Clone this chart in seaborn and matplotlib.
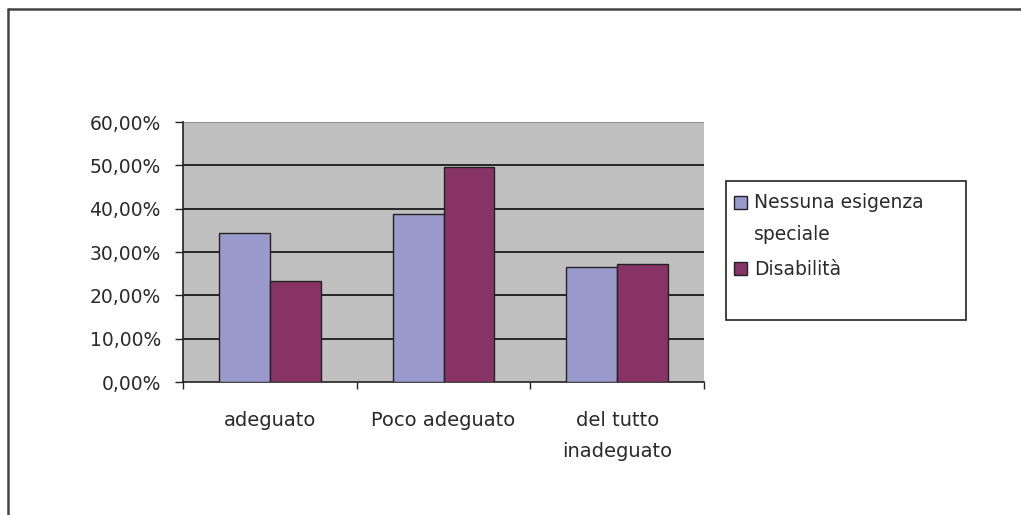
import matplotlib
matplotlib.use("Agg")
import matplotlib.pyplot as plt
from matplotlib.lines import Line2D
from matplotlib.patches import Rectangle
from matplotlib.ticker import FixedLocator, FuncFormatter
import seaborn as sns
import pandas as pd

# Survey responses, share per group
categories = ["adeguato", "Poco adeguato", "del tutto\ninadeguato"]
series_names = ["Nessuna esigenza\nspeciale", "Disabilità"]
nessuna_esigenza = [34.5, 38.8, 26.6]
disabilita = [23.2, 49.6, 27.3]
y_ticks = [0, 10, 20, 30, 40, 50, 60]

df = pd.DataFrame({
    "categoria": categories * 2,
    "gruppo": [series_names[0]] * 3 + [series_names[1]] * 3,
    "valore": nessuna_esigenza + disabilita,
})

sns.set_theme(style="white")
plt.rcParams["font.family"] = ["DejaVu Sans"]

W, H = 1021, 515
fig = plt.figure(figsize=(W / 100, H / 100), dpi=100)
fig.patch.set_facecolor("white")

# plot area in pixel coordinates
x0, x1, ytop, ybot = 183, 704, 122, 382
ax = fig.add_axes([x0 / W, 1 - ybot / H, (x1 - x0) / W, (ybot - ytop) / H])
ax.set_facecolor("#C0C0C0")

palette = ["#9999CC", "#883366"]
sns.barplot(data=df, x="categoria", y="valore", hue="gruppo",
            order=categories, hue_order=series_names, palette=palette,
            width=0.585, edgecolor="#222222", linewidth=1.0,
            saturation=1, ax=ax, zorder=3)

ax.set_xlim(-0.5, 2.5)
ax.set_ylim(0, 60)
ax.set_xlabel("")
ax.set_ylabel("")

# horizontal gridlines
for v in y_ticks[1:]:
    ax.axhline(v, color="#1a1a1a" if v < 60 else "#8a8a8a", lw=1.3, zorder=1)

ax.yaxis.set_major_locator(FixedLocator(y_ticks))
ax.yaxis.set_major_formatter(FuncFormatter(lambda v, p: f"{v:.2f}".replace(".", ",") + "%"))
ax.tick_params(axis="y", which="major", direction="out", length=6, width=1,
               color="#222222", pad=10, labelsize=13.5, labelcolor="#2a2a2a", left=True)

ax.xaxis.set_minor_locator(FixedLocator([-0.5, 0.5, 1.5, 2.5]))
ax.tick_params(axis="x", which="minor", direction="out", length=5, width=1,
               color="#222222", bottom=True)
ax.tick_params(axis="x", which="major", length=0, pad=21, labelsize=14,
               labelcolor="#2a2a2a")
for lbl in ax.get_xticklabels():
    lbl.set_horizontalalignment("center")
    lbl.set_linespacing(1.8)

for side in ["top", "right"]:
    ax.spines[side].set_visible(False)
for side in ["left", "bottom"]:
    ax.spines[side].set_visible(True)
    ax.spines[side].set_color("#222222")
    ax.spines[side].set_linewidth(1.2)

# legend box on the right
handles, labels = ax.get_legend_handles_labels()
ax.get_legend().remove()
fig.add_artist(Rectangle((726 / W, 1 - 320 / H), (966 - 726) / W, (320 - 181) / H,
                         transform=fig.transFigure, facecolor="white",
                         edgecolor="#222222", lw=1.2))
leg = fig.legend(handles, labels, loc="upper left",
                 bbox_to_anchor=(734 / W, 1 - 193 / H), frameon=False,
                 handlelength=0.7, handleheight=0.7, handletextpad=0.35,
                 labelspacing=0.85, fontsize=13.5, borderpad=0, borderaxespad=0)
for t in leg.get_texts():
    t.set_color("#2a2a2a")
    t.set_linespacing(1.85)
# the swatch of the two-line entry sits beside its first line
first = leg.legend_handles[0]
first.set_y(first.get_y() + 12)

# outer frame of the chart object
fig.add_artist(Line2D([8 / W, 8 / W], [0, 1 - 9 / H], transform=fig.transFigure,
                      color="#444444", lw=1.8))
fig.add_artist(Line2D([8 / W, 1], [1 - 9 / H, 1 - 9 / H], transform=fig.transFigure,
                      color="#444444", lw=1.8))

fig.savefig("out.png", dpi=100)
